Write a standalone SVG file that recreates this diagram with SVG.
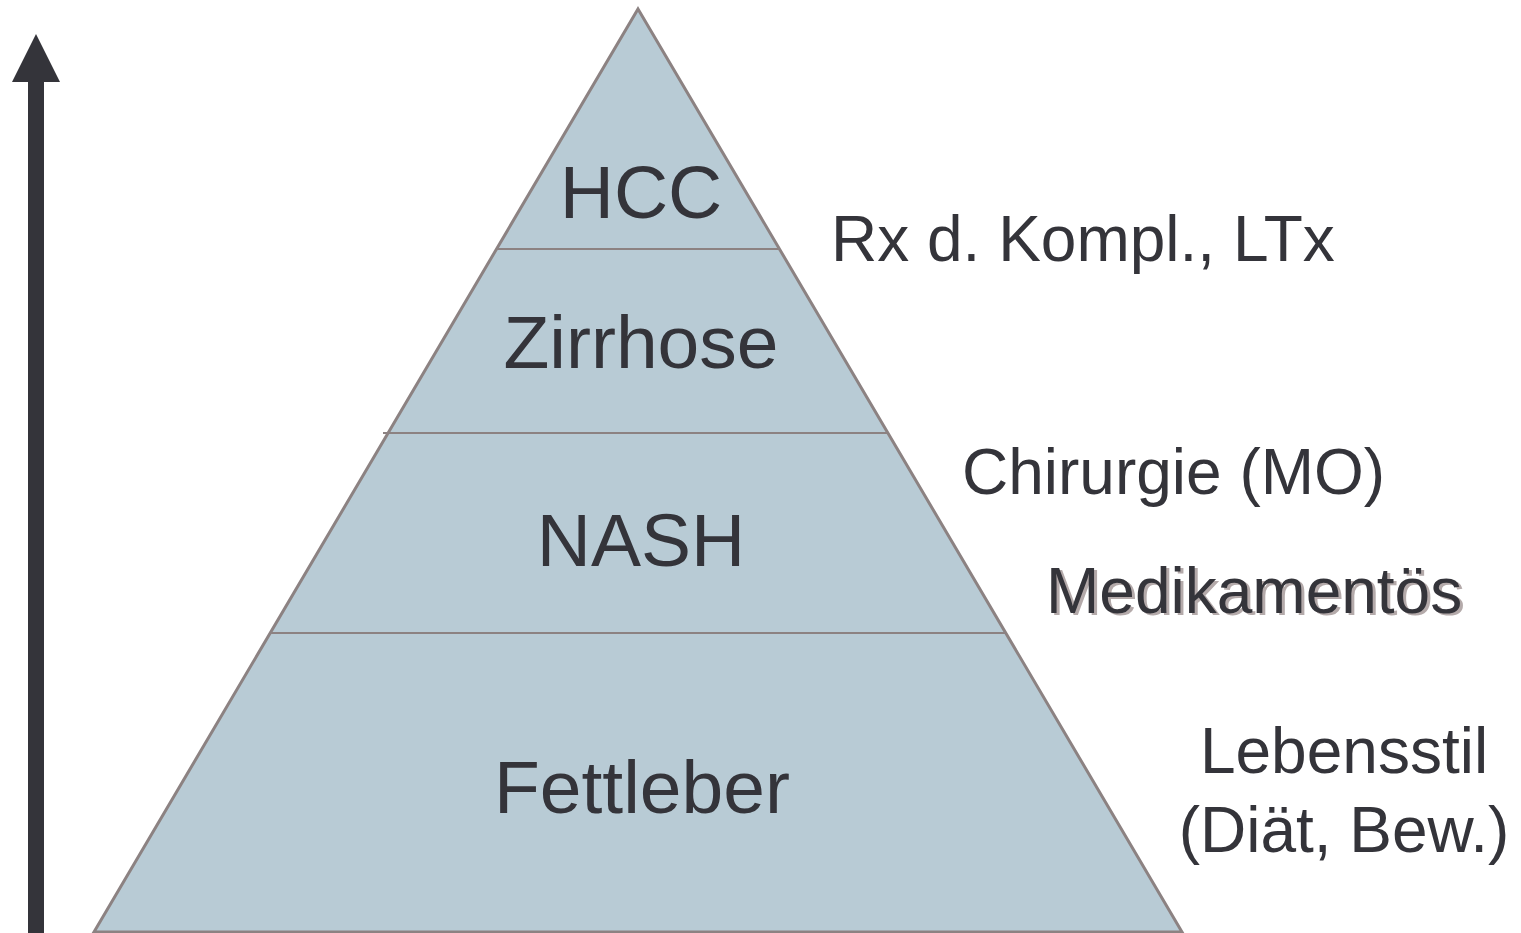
<svg xmlns="http://www.w3.org/2000/svg" width="1521" height="933" viewBox="0 0 1521 933">
<style>
.lbl{font-family:"Liberation Sans",Arial,sans-serif;fill:#34343a}
.tier{font-size:75px;text-anchor:middle}
.rx{font-size:64px}
.div{stroke:#8c8282;stroke-width:2}
</style>
<rect width="1521" height="933" fill="#ffffff"/>
<g id="arrow">
<rect x="28" y="80" width="16" height="853" fill="#34343a"/>
<polygon points="36,34 60,82 12,82" fill="#34343a"/>
</g>
<g id="pyramid">
<polygon points="638,9 1182,932 94,932" fill="#b8cbd5" stroke="#8c8282" stroke-width="3"/>
</g>
<g id="connectors">
<line class="div" x1="497" y1="249" x2="779" y2="249"/>
<line class="div" x1="383" y1="433" x2="887" y2="433"/>
<line class="div" x1="271" y1="633" x2="1005" y2="633"/>
</g>
<g id="hcc"><text class="lbl tier" x="641" y="218">HCC</text></g>
<g id="zirrhose"><text class="lbl tier" x="641" y="368">Zirrhose</text></g>
<g id="nash"><text class="lbl tier" x="641" y="566">NASH</text></g>
<g id="fettleber"><text class="lbl tier" x="642" y="813">Fettleber</text></g>
<g id="rx"><text class="lbl rx" x="831" y="261">Rx d. Kompl., LTx</text></g>
<g id="chirurgie"><text class="lbl rx" x="962" y="494">Chirurgie (MO)</text></g>
<g id="medikamentoes">
<text class="rx" x="1049" y="615" fill="#b4aaaa" style="font-family:'Liberation Sans',Arial,sans-serif">Medikamentös</text>
<text class="lbl rx" x="1046" y="613">Medikamentös</text>
</g>
<g id="lebensstil">
<text class="lbl rx" x="1344" y="773" text-anchor="middle">Lebensstil</text>
<text class="lbl rx" x="1344" y="852" text-anchor="middle">(Diät, Bew.)</text>
</g>
</svg>
